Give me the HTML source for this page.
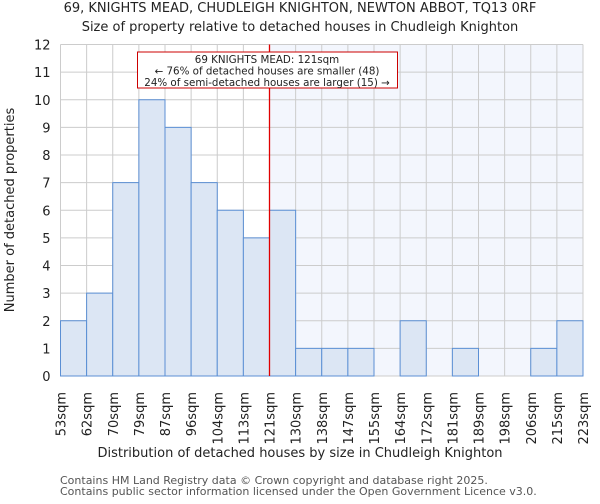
<!DOCTYPE html>
<html><head><meta charset="utf-8"><style>
body{margin:0;background:#fff;font-family:"DejaVu Sans","Liberation Sans",sans-serif;}
</style></head><body>
<svg id="chart" width="600" height="500" xmlns="http://www.w3.org/2000/svg" font-family="DejaVu Sans, Liberation Sans, sans-serif">
<text x="300" y="12" text-anchor="middle" font-size="13" fill="#222">69, KNIGHTS MEAD, CHUDLEIGH KNIGHTON, NEWTON ABBOT, TQ13 0RF</text>
<text x="300" y="31" text-anchor="middle" font-size="13" fill="#222">Size of property relative to detached houses in Chudleigh Knighton</text>
<g id="plot"></g>
<text x="300" y="457" text-anchor="middle" font-size="13" fill="#222">Distribution of detached houses by size in Chudleigh Knighton</text>
<text transform="translate(14,210) rotate(-90)" text-anchor="middle" font-size="13" fill="#222">Number of detached properties</text>
<text x="60" y="484" font-size="11" fill="#555">Contains HM Land Registry data © Crown copyright and database right 2025.</text>
<text x="60" y="495" font-size="11" fill="#555">Contains public sector information licensed under the Open Government Licence v3.0.</text>
</svg>
<script>
const categories=["53sqm","62sqm","70sqm","79sqm","87sqm","96sqm","104sqm","113sqm","121sqm","130sqm","138sqm","147sqm","155sqm","164sqm","172sqm","181sqm","189sqm","198sqm","206sqm","215sqm","223sqm"];
const counts=[2,3,7,10,9,7,6,5,6,1,1,1,0,2,0,1,0,0,1,2];
const yTicks=[0,1,2,3,4,5,6,7,8,9,10,11,12];
const markerIndex=8;
const annotationLines=["69 KNIGHTS MEAD: 121sqm","← 76% of detached houses are smaller (48)","24% of semi-detached houses are larger (15) →"];
const L=60.5,R=583,T=44.5,B=376,yMax=12;
const nb=counts.length,bw=(R-L)/nb;
const xs=i=>L+i*bw, ys=v=>B-(v/yMax)*(B-T);
const NS="http://www.w3.org/2000/svg",g=document.getElementById('plot');
function mk(t,a){const e=document.createElementNS(NS,t);for(const k in a)e.setAttribute(k,a[k]);g.appendChild(e);return e;}
let e;
e=mk('rect',{x:xs(markerIndex),y:T,width:R-xs(markerIndex),height:B-T,fill:'#f3f6fd'});


yTicks.forEach(v=>{
 e=mk('line',{x1:L,x2:R,y1:ys(v),y2:ys(v),stroke:'#ccc','stroke-width':1});
 
 
 e=mk('text',{x:L-10,y:ys(v)+5,'text-anchor':'end','font-size':13,fill:'#222'});e.textContent=v;
 
 
});
categories.forEach((c,i)=>{
 e=mk('line',{x1:xs(i),x2:xs(i),y1:T,y2:B,stroke:'#ccc','stroke-width':1});
 
 
});
counts.forEach((v,i)=>{
 if(v<=0)return;
 e=mk('rect',{x:xs(i),y:ys(v),width:bw,height:B-ys(v),fill:'#dce6f4',stroke:'#5b8fd4','stroke-width':1});
 
 
});
categories.forEach((c,i)=>{
 const x=xs(i);
 e=mk('text',{transform:`translate(${x+5},${B+16}) rotate(-90)`,'text-anchor':'end','font-size':13,fill:'#222'});e.textContent=c;
 
 
});
e=mk('line',{x1:xs(markerIndex),x2:xs(markerIndex),y1:T,y2:B,stroke:'#e00000','stroke-width':1.3});


e=mk('rect',{x:137.5,y:52,width:260,height:36,fill:'#fff',stroke:'#cc0000','stroke-width':1});


annotationLines.forEach((t,k)=>{
 e=mk('text',{x:267,y:63+k*11.5,'text-anchor':'middle','font-size':10.3,fill:'#222'});e.textContent=t;
 
 
});
</script>
</body></html>
